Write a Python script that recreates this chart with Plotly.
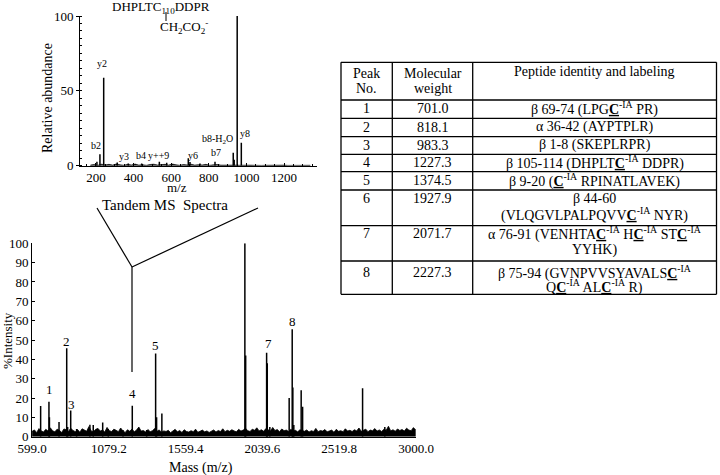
import numpy as np
import plotly.graph_objects as go

W, H = 720, 475
FONT = "Liberation Serif"

# ---------------- Main MALDI spectrum data ----------------
main_peak_mz = [653, 705, 708, 768, 816, 822, 841, 878, 961, 982, 1041, 1076, 1168,
                1226, 1316, 1372, 1378, 1411, 1930, 1935, 2066, 2070, 2086, 2207,
                2226, 2230, 2236, 2282, 2291, 2666, 2805]
main_peak_int = [15.9, 18.1, 10.0, 7.6, 45.7, 5.0, 13.6, 4.0, 6.2, 6.0, 7.4, 4.0, 3.5,
                 16.0, 3.5, 43.0, 10.0, 12.0, 100.0, 42.0, 43.4, 38.0, 5.0, 20.0,
                 55.5, 25.5, 6.0, 24.0, 15.5, 25.0, 5.0]
main_noise = [2.8, 3.5, 2.1, 4.2, 3.0, 2.4, 3.8, 2.9, 4.6, 3.1, 2.5, 3.9, 3.3, 2.2, 4.0, 3.6, 2.7, 4.4, 3.2, 2.6,
              3.7, 2.3, 4.1, 3.4, 2.8, 5.2, 3.0, 2.5, 3.8, 4.3, 2.9, 3.5, 2.4, 4.8, 3.1, 2.7, 3.9, 3.3, 2.6, 4.5,
              3.0, 2.2, 3.6, 2.8, 4.0, 2.5, 3.4, 5.0, 2.9, 3.2, 2.4, 3.7, 2.6, 3.1, 4.2, 2.8, 3.5, 2.3, 3.0, 2.7,
              3.3, 2.1, 2.9, 3.8, 2.5, 3.2, 2.2, 3.6, 2.7, 2.4, 3.1, 2.6, 3.9, 2.3, 2.8, 3.4, 2.5, 3.0, 2.2, 2.9,
              3.5, 2.4, 3.2, 2.7, 4.1, 2.6, 3.3, 2.8, 3.6, 3.0, 2.5, 3.8, 2.9, 3.4, 4.4, 3.1, 2.7, 3.9, 3.3, 4.6,
              3.0, 3.6, 2.8, 4.2, 3.5, 2.9, 4.8, 3.2, 3.7, 2.6, 4.0, 3.1, 3.4, 2.7, 3.8, 2.9, 3.3, 2.5, 3.6, 3.0,
              2.8, 3.5, 2.4, 3.1, 2.7, 4.3, 2.6, 3.2, 2.9, 3.7, 2.5, 3.0, 3.4, 2.3, 3.8, 2.8, 3.1, 2.6, 4.1, 2.9,
              3.3, 2.7, 3.6, 3.0, 4.5, 2.8, 3.2, 3.9, 2.6, 3.4, 3.1, 4.2, 2.9, 3.5, 2.7, 3.8, 3.3, 5.4, 3.0, 3.6,
              2.8, 4.0, 3.2, 3.7, 2.9, 4.4, 3.4, 3.1, 4.7, 3.5]
main_xticks = [599.0, 1079.2, 1559.4, 2039.6, 2519.8, 3000.0]
main_yticks = [0, 10, 20, 30, 40, 50, 60, 70, 80, 90, 100]
peak_labels = ["1", "2", "3", "4", "5", "6", "7", "8"]
peak_label_mz = [711.5, 816, 849, 1226, 1372, 1930, 2076, 2228]
peak_label_int = [24.5, 49.1, 16.9, 22.5, 47.4, 103.2, 48.3, 59.5]

# ---------------- Tandem MS inset data ----------------
inset_peak_mz = [205, 221, 241, 313, 372, 443, 537, 576, 691, 700, 753, 833, 930, 935, 951, 973]
inset_peak_int = [2.7, 7.6, 58.8, 2.2, 1.5, 1.5, 2.7, 2.0, 4.9, 2.5, 1.5, 2.7, 8.7, 4.0, 100.0, 15.4]
inset_noise = [0.4, 0.8, 0.3, 1.0, 0.5, 0.9, 0.4, 1.2, 0.6, 0.3, 0.9, 0.5, 1.1, 0.4, 0.7, 0.3, 0.8, 1.0, 0.5, 0.6,
               0.9, 0.4, 1.1, 0.6, 0.3, 0.8, 0.5, 1.0, 0.4, 0.7, 0.5, 0.9, 0.3, 0.6, 0.8, 0.4, 0.5, 0.3, 0.6, 0.4,
               0.3, 0.5, 0.2, 0.4, 0.3, 0.5, 0.2, 0.3, 0.4, 0.2, 0.3, 0.2, 0.4, 0.2, 0.3, 0.2, 0.3, 0.2, 0.2, 0.3]
inset_labels = ["b2", "y2", "y3", "b4", "y++9", "y6", "b7", "b8-H<sub>2</sub>O", "y8", "b8"]
inset_label_mz = [198, 230, 350, 438, 535, 718, 837, 845, 993, 952]
inset_label_int = [13.8, 68.4, 6.0, 6.5, 7.1, 6.5, 8.7, 17.6, 21.6, 106.7]
inset_xticks = [200, 400, 600, 800, 1000, 1200]
inset_yticks = [0, 50, 100]

# ---------------- Table data ----------------
C_IA = '<span style="text-decoration:underline"><b>C</b></span><sup>-IA</sup>'
peak_no = ["1", "2", "3", "4", "5", "6", "7", "8"]
mol_weight = ["701.0", "818.1", "983.3", "1227.3", "1374.5", "1927.9", "2071.7", "2227.3"]
peptide_lines = [
    ["β 69-74 (LPG" + C_IA + " PR)"],
    ["α 36-42 (AYPTPLR)"],
    ["β 1-8 (SKEPLRPR)"],
    ["β 105-114 (DHPLT" + C_IA + " DDPR)"],
    ["β 9-20 (" + C_IA + " RPINATLAVEK)"],
    ["β 44-60", "(VLQGVLPALPQVV" + C_IA + " NYR)"],
    ["α 76-91 (VENHTA" + C_IA + " H" + C_IA + " ST" + C_IA, "YYHK)"],
    ["β 75-94 (GVNPVVSYAVALS" + C_IA, "Q" + C_IA + " AL" + C_IA + " R)"],
]


def sticks(mz, inten):
    xs, ys = [], []
    for m, v in zip(mz, inten):
        xs += [m, m, None]
        ys += [0, v, None]
    return xs, ys


def P(x, y):
    return x / W, 1 - y / H


fig = go.Figure()

nx = np.linspace(600, 2998, len(main_noise))
fig.add_trace(go.Scatter(x=nx, y=main_noise, mode="lines", fill="tozeroy",
                         fillcolor="black", line=dict(color="black", width=0.8),
                         xaxis="x", yaxis="y", hoverinfo="skip"))
sx, sy = sticks(main_peak_mz, main_peak_int)
fig.add_trace(go.Scatter(x=sx, y=sy, mode="lines", line=dict(color="black", width=1.5),
                         xaxis="x", yaxis="y", hoverinfo="skip"))

inx = np.linspace(170, 1340, len(inset_noise))
fig.add_trace(go.Scatter(x=inx, y=inset_noise, mode="lines", fill="tozeroy",
                         fillcolor="black", line=dict(color="black", width=0.6),
                         xaxis="x2", yaxis="y2", hoverinfo="skip"))
ix, iy = sticks(inset_peak_mz, inset_peak_int)
fig.add_trace(go.Scatter(x=ix, y=iy, mode="lines", line=dict(color="black", width=1.5),
                         xaxis="x2", yaxis="y2", hoverinfo="skip"))

tickfont = dict(family=FONT, size=13, color="black")
common = dict(showgrid=False, zeroline=False, automargin=False, tickfont=tickfont,
              showline=True, linecolor="black", linewidth=1, tickcolor="black")
fig.update_layout(
    template="none",
    width=W, height=H, margin=dict(l=0, r=0, t=0, b=0, pad=0), autosize=False,
    paper_bgcolor="white", plot_bgcolor="white", showlegend=False, hovermode=False,
    dragmode=False,
    font=dict(family=FONT, color="black"),
    xaxis=dict(domain=[32 / W, 416 / W], range=[599, 3000], anchor="y",
               tickvals=main_xticks, ticktext=["%.1f" % v for v in main_xticks],
               ticks="", **common),
    yaxis=dict(domain=[1 - 436.7 / H, 1 - 243.3 / H], range=[0, 100], anchor="x",
               tickvals=main_yticks, ticks="inside", ticklen=3, **common),
    xaxis2=dict(domain=[80 / W, 317 / W], range=[115, 1375.5], anchor="y2",
                tickvals=inset_xticks, ticks="inside", ticklen=3,
                minor=dict(dtick=50, ticks="inside", ticklen=2, tickcolor="black"),
                **common),
    yaxis2=dict(domain=[1 - 165.7 / H, 1 - 16 / H], range=[0, 100], anchor="x2",
                tickvals=inset_yticks, ticks="outside", ticklen=3,
                minor=dict(dtick=5, ticks="inside", ticklen=2, tickcolor="black"),
                **common),
)

ann = []
for t, m, v in zip(peak_labels, peak_label_mz, peak_label_int):
    ann.append(dict(x=m, y=v, xref="x", yref="y", text=t, showarrow=False,
                    font=dict(family=FONT, size=13, color="black")))
for t, m, v in zip(inset_labels, inset_label_mz, inset_label_int):
    ann.append(dict(x=m, y=v, xref="x2", yref="y2", text=t, showarrow=False,
                    font=dict(family=FONT, size=10, color="black")))


def txt(x, y, text, size=14, angle=0, xanchor="center"):
    px, py = P(x, y)
    ann.append(dict(x=px, y=py, xref="paper", yref="paper", text=text, showarrow=False,
                    textangle=angle, xanchor=xanchor, yanchor="middle",
                    font=dict(family=FONT, size=size, color="black")))


txt(200.7, 468, "Mass (m/z)", 14)
txt(7, 341, "%Intensity", 13, angle=-90)
txt(177, 188, "m/z", 13)
txt(47, 98, "Relative abundance", 14, angle=-90)
txt(165, 205, "Tandem MS  Spectra", 15)
txt(161, 8, "DHPLTC<sub>110</sub>DDPR", 13)
txt(184, 27, "CH<sub>2</sub>CO<sub>2</sub><sup>-</sup>", 13)

shapes = []


def seg(x0, y0, x1, y1, w=1.2):
    a, b = P(x0, y0)
    c, d = P(x1, y1)
    shapes.append(dict(type="line", xref="paper", yref="paper", x0=a, y0=b, x1=c, y1=d,
                       line=dict(color="black", width=w)))


seg(97, 208, 132, 267)
seg(258, 208, 132, 267)
seg(132, 267, 132, 372)
seg(166, 12, 166, 21, 1)

col_x = [341, 392.3, 472.7, 716.5]
row_y = [62.3, 100, 118.3, 136.7, 154.3, 171.7, 190, 225.7, 261, 294.3]
for cx in col_x:
    seg(cx, row_y[0], cx, row_y[-1], 1.3)
for ry in row_y:
    seg(col_x[0], ry, col_x[-1], ry, 1.3)

c0 = (col_x[0] + col_x[1]) / 2
c1 = (col_x[1] + col_x[2]) / 2
c2 = (col_x[2] + col_x[3]) / 2
txt(c0, 73.5, "Peak")
txt(c0, 88.5, "No.")
txt(c1, 73.5, "Molecular")
txt(c1, 88.5, "weight")
txt(c2, 72, "Peptide identity and labeling")

line_y = [[108.5], [127], [145], [162.5], [180.5], [198.5, 214], [233, 250], [272, 286]]
for i in range(8):
    txt(c0, line_y[i][0], peak_no[i])
    txt(c1, line_y[i][0], mol_weight[i])
    for ly, s in zip(line_y[i], peptide_lines[i]):
        txt(c2, ly, s)

fig.update_layout(annotations=ann, shapes=shapes)
fig.write_html("out.html", config={"displayModeBar": False, "staticPlot": True},
               post_script="document.body.style.margin='0';document.body.style.overflow='hidden';")
